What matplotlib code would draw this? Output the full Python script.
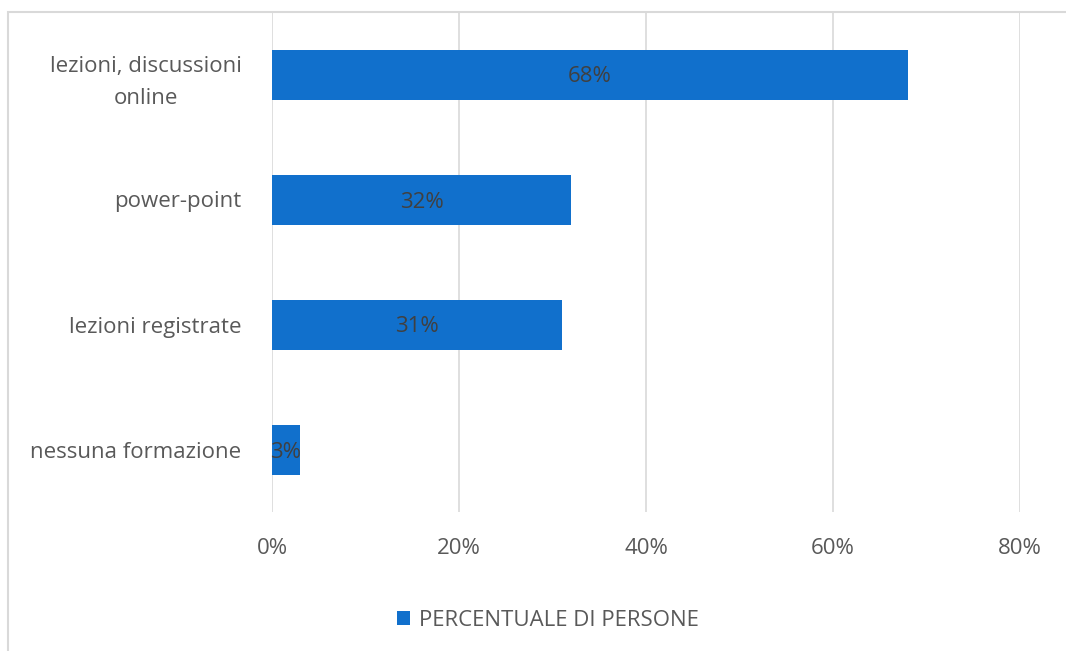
import matplotlib
matplotlib.use("Agg")
import matplotlib.pyplot as plt
from matplotlib.patches import Rectangle
from matplotlib.ticker import FuncFormatter

categories = ["lezioni, discussioni\nonline", "power-point", "lezioni registrate", "nessuna formazione"]
values = [68, 32, 31, 3]
x_ticks = [0, 20, 40, 60, 80]
series_name = "PERCENTUALE DI PERSONE"

plt.rcParams['font.family'] = ['Open Sans', 'DejaVu Sans']

W, H = 1066, 651
fig = plt.figure(figsize=(W/100, H/100), dpi=100)
fig.patch.set_facecolor('white')

# outer chart border (partially visible)
fig.add_artist(Rectangle((8/W, -0.05), 1.1, 1 - 12/H + 0.05, transform=fig.transFigure,
                         fill=False, edgecolor='#D9D9D9', linewidth=1.5))

ax = fig.add_axes([272/W, 1 - 512/H, (1020-272)/W, (512-12)/H])
bar_color = '#1170CC'
ypos = list(range(len(categories)))
bars = ax.barh(ypos, values, height=0.4, color=bar_color, zorder=3, label=series_name)
ax.set_ylim(len(categories) - 0.5, -0.5)
ax.set_xlim(0, 80)
ax.set_xticks(x_ticks)
ax.xaxis.set_major_formatter(FuncFormatter(lambda v, p: f"{int(v)}%"))
ax.set_yticks(ypos)
ax.set_yticklabels(categories)
for lbl in ax.get_yticklabels():
    lbl.set_multialignment('center')
    lbl.set_linespacing(1.7)
ax.tick_params(axis='y', length=0, pad=22, labelsize=16, labelcolor='#595959')
ax.tick_params(axis='x', length=0, pad=19, labelsize=16, labelcolor='#595959')
ax.grid(axis='x', color='#D9D9D9', linewidth=1.2, zorder=0)
for s in ax.spines.values():
    s.set_visible(False)

for b, v in zip(bars, values):
    ax.text(b.get_x() + b.get_width()/2, b.get_y() + b.get_height()/2, f"{v}%",
            ha='center', va='center_baseline', fontsize=16, color='#404040', zorder=4)

leg = fig.legend(handles=[bars], labels=[series_name], loc='center',
                 bbox_to_anchor=(548/W, 1 - 620/H), frameon=False, fontsize=16,
                 handlelength=0.6, handleheight=0.6, handletextpad=0.4)
for t in leg.get_texts():
    t.set_color('#595959')

fig.savefig("out.png", dpi=100)
